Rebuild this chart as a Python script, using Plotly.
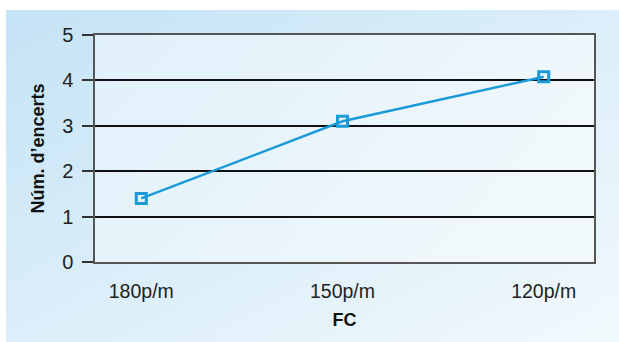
import base64
import plotly.graph_objects as go

# Data
categories = ["180p/m", "150p/m", "120p/m"]
encerts = [1.4, 3.1, 4.08]
y_ticks = [0, 1, 2, 3, 4, 5]

LINE_BLUE = "#1a9ad8"


def gradient_svg(c0, c1, x2="1", y2="1"):
    svg = (
        '<svg xmlns="http://www.w3.org/2000/svg" width="100" height="100" preserveAspectRatio="none">'
        '<defs><linearGradient id="g" x1="0" y1="0" x2="%s" y2="%s">'
        '<stop offset="0" stop-color="%s"/><stop offset="1" stop-color="%s"/>'
        '</linearGradient></defs><rect width="100" height="100" fill="url(#g)"/></svg>'
    ) % (x2, y2, c0, c1)
    return "data:image/svg+xml;base64," + base64.b64encode(svg.encode()).decode()


W, H = 619, 342

fig = go.Figure(
    go.Scatter(
        x=categories,
        y=encerts,
        mode="lines+markers",
        line=dict(color=LINE_BLUE, width=2.4),
        marker=dict(symbol="square-open", size=10, color=LINE_BLUE, line=dict(width=3, color=LINE_BLUE)),
        showlegend=False,
        cliponaxis=False,
    )
)

fig.update_layout(
    width=W,
    height=H,
    margin=dict(l=95, r=25, t=35, b=80),
    paper_bgcolor="white",
    plot_bgcolor="rgba(0,0,0,0)",
    font=dict(family="Liberation Sans, Arial, sans-serif", color="#222"),
    images=[
        # outer panel
        dict(
            source=gradient_svg("#c4e3f5", "#f2f9fd"),
            xref="paper", yref="paper",
            x=(6 - 95) / (W - 95 - 25), y=1 + (35 - 10) / (H - 35 - 80),
            sizex=(W - 6) / (W - 95 - 25), sizey=(H - 10) / (H - 35 - 80),
            xanchor="left", yanchor="top", sizing="stretch", layer="below",
        ),
        # plot area
        dict(
            source=gradient_svg("#e0f0fa", "#f1f8fc", "1", "0.4"),
            xref="paper", yref="paper",
            x=0, y=1, sizex=1, sizey=1,
            xanchor="left", yanchor="top", sizing="stretch", layer="below",
        ),
    ],
)

fig.update_xaxes(
    type="category",
    range=[-0.23, 2.25],
    showgrid=False,
    showline=True,
    linecolor="#555",
    linewidth=1.5,
    mirror=True,
    ticks="",
    ticklabelstandoff=11,
    tickfont=dict(size=19.5, color="#222"),
    title=dict(text="<b>FC</b>", font=dict(size=18, color="#111"), standoff=12),
    zeroline=False,
)

fig.update_yaxes(
    range=[0, 5],
    tickvals=y_ticks,
    showgrid=True,
    gridcolor="#111",
    gridwidth=1.5,
    showline=True,
    linecolor="#555",
    linewidth=1.5,
    mirror=True,
    ticks="outside",
    ticklen=11,
    tickwidth=1.5,
    tickcolor="#333",
    ticklabelstandoff=5,
    tickfont=dict(size=20, color="#222"),
    title=dict(text="<b>Núm. d’encerts</b>", font=dict(size=18, color="#111"), standoff=13),
    zeroline=False,
)

fig.write_html("out.html")
